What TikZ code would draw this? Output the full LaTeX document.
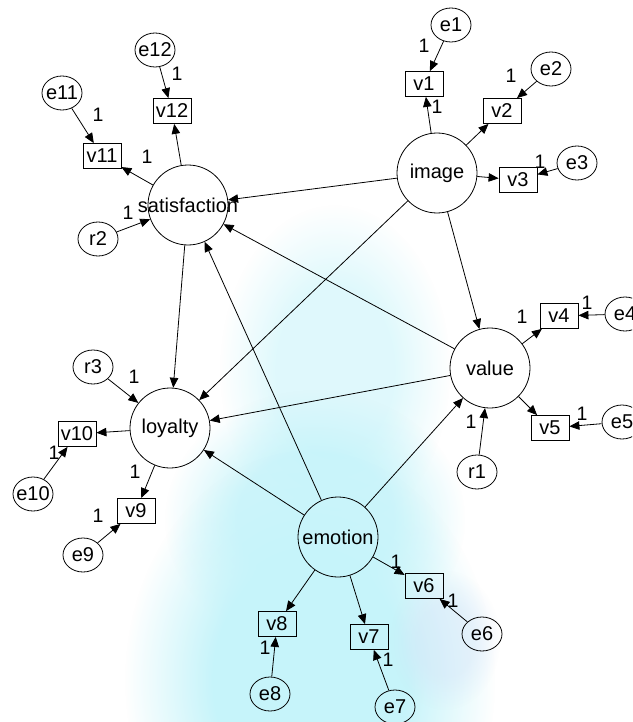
\documentclass[tikz,border=0pt]{standalone}
\usepackage{fontspec}
\setmainfont{Liberation Sans}
\usetikzlibrary{shapes.geometric,arrows.meta,fadings}
\definecolor{haze}{RGB}{198,244,250}
\definecolor{hazeblue}{RGB}{212,228,248}
% radial fading: opaque core, soft edge
\pgfdeclareradialshading{softblobshade}{\pgfpointorigin}{color(0bp)=(white); color(13bp)=(white); color(25bp)=(black); color(50bp)=(black)}
\pgfdeclarefading{softblob}{\pgfuseshading{softblobshade}}
\newcommand\ctext[1]{\makebox[0pt]{#1}}

\begin{document}
\begin{tikzpicture}[x=1pt,y=-1pt,
  lbl/.style={font=\fontsize{20}{22}\selectfont},
  latent/.style={circle,draw,line width=0.8pt,minimum size=80pt,inner sep=0pt,lbl},
  observed/.style={rectangle,draw,line width=0.8pt,minimum width=38pt,minimum height=25pt,inner sep=0pt,lbl},
  errterm/.style={ellipse,draw,line width=0.8pt,minimum width=40pt,minimum height=34pt,inner sep=0pt,lbl},
  link/.style={-{Triangle[length=10pt,width=8.5pt]},line width=0.8pt},
  one/.style={inner sep=0pt,font=\fontsize{19.5}{20}\selectfont}
]
\useasboundingbox (0,0) rectangle (632,722);
\clip (0,0) rectangle (632,722);
\fill[white] (0,0) rectangle (632,722);

% soft cyan haze behind the lower half
\fill[haze, fill opacity=0.55, path fading=softblob] (335,370) ellipse [x radius=115, y radius=165];
\fill[haze, fill opacity=0.85, path fading=softblob] (315,520) ellipse [x radius=150, y radius=130];
\fill[haze, path fading=softblob] (310,680) ellipse [x radius=185, y radius=230];
\fill[hazeblue, fill opacity=0.45, path fading=softblob] (445,640) ellipse [x radius=55, y radius=70];

% latent variables
\node[latent] (sat) at (188,205) {\ctext{satisfaction}};
\node[latent] (img) at (437,173) {\ctext{image}};
\node[latent] (val) at (490,368) {\ctext{value}};
\node[latent] (loy) at (170,428) {\ctext{loyalty}};
\node[latent] (emo) at (338,537) {\ctext{emotion}};

% observed indicators
\node[observed] (v1)  at (424,84)  {\ctext{v1}};
\node[observed] (v2)  at (502,111) {\ctext{v2}};
\node[observed] (v3)  at (518,180) {\ctext{v3}};
\node[observed] (v4)  at (559,316) {\ctext{v4}};
\node[observed] (v5)  at (550,428) {\ctext{v5}};
\node[observed] (v6)  at (424,586) {\ctext{v6}};
\node[observed] (v7)  at (369,637) {\ctext{v7}};
\node[observed] (v8)  at (277,624) {\ctext{v8}};
\node[observed] (v9)  at (136,511) {\ctext{v9}};
\node[observed] (v10) at (77,434)  {\ctext{v10}};
\node[observed] (v11) at (102,156) {\ctext{v11}};
\node[observed] (v12) at (172,111) {\ctext{v12}};

% error and residual terms
\node[errterm] (e1)  at (451,25)  {\ctext{e1}};
\node[errterm] (e2)  at (551,69)  {\ctext{e2}};
\node[errterm] (e3)  at (577,163) {\ctext{e3}};
\node[errterm] (e4)  at (625,314) {\ctext{e4}};
\node[errterm] (e5)  at (622,422) {\ctext{e5}};
\node[errterm] (e6)  at (482,634) {\ctext{e6}};
\node[errterm] (e7)  at (395,707) {\ctext{e7}};
\node[errterm] (e8)  at (270,694) {\ctext{e8}};
\node[errterm] (e9)  at (83,555)  {\ctext{e9}};
\node[errterm] (e10) at (33,494)  {\ctext{e10}};
\node[errterm] (e11) at (62,93)   {\ctext{e11}};
\node[errterm] (e12) at (155,50)  {\ctext{e12}};
\node[errterm] (r1)  at (477,472) {\ctext{r1}};
\node[errterm] (r2)  at (98,239)  {\ctext{r2}};
\node[errterm] (r3)  at (93,367)  {\ctext{r3}};

% structural paths
\draw[link] (img) -- (sat);
\draw[link] (img) -- (loy);
\draw[link] (img) -- (val);
\draw[link] (val) -- (sat);
\draw[link] (val) -- (loy);
\draw[link] (sat) -- (loy);
\draw[link] (emo) -- (sat);
\draw[link] (emo) -- (loy);
\draw[link] (emo) -- (val);

% measurement paths
\draw[link] (img) -- (v1);
\draw[link] (img) -- (v2);
\draw[link] (img) -- (v3);
\draw[link] (val) -- (v4);
\draw[link] (val) -- (v5);
\draw[link] (emo) -- (v6);
\draw[link] (emo) -- (v7);
\draw[link] (emo) -- (v8);
\draw[link] (loy) -- (v9);
\draw[link] (loy) -- (v10);
\draw[link] (sat) -- (v11);
\draw[link] (sat) -- (v12);

% error paths
\draw[link] (e1) -- (v1);
\draw[link] (e2) -- (v2);
\draw[link] (e3) -- (v3);
\draw[link] (e4) -- (v4);
\draw[link] (e5) -- (v5);
\draw[link] (e6) -- (v6);
\draw[link] (e7) -- (v7);
\draw[link] (e8) -- (v8);
\draw[link] (e9) -- (v9);
\draw[link] (e10) -- (v10);
\draw[link] (e11) -- (v11);
\draw[link] (e12) -- (v12);
\draw[link] (r1) -- (val);
\draw[link] (r2) -- (sat);
\draw[link] (r3) -- (loy);

% fixed loadings
\node[one] (k1)  at (177,74)  {1};
\node[one] (k2)  at (98,115)  {1};
\node[one] (k3)  at (147,157) {1};
\node[one] (k4)  at (128,213) {1};
\node[one] (k5)  at (424,46)  {1};
\node[one] (k6)  at (437,107) {1};
\node[one] (k7)  at (511,76)  {1};
\node[one] (k8)  at (540,162) {1};
\node[one] (k9)  at (522,317) {1};
\node[one] (k10) at (587,303) {1};
\node[one] (k11) at (582,414) {1};
\node[one] (k12) at (471,422) {1};
\node[one] (k13) at (134,377) {1};
\node[one] (k14) at (54,453)  {1};
\node[one] (k15) at (135,472) {1};
\node[one] (k16) at (98,516)  {1};
\node[one] (k17) at (396,562) {1};
\node[one] (k18) at (453,601) {1};
\node[one] (k19) at (265,648) {1};
\node[one] (k20) at (388,660) {1};
\end{tikzpicture}
\end{document}
